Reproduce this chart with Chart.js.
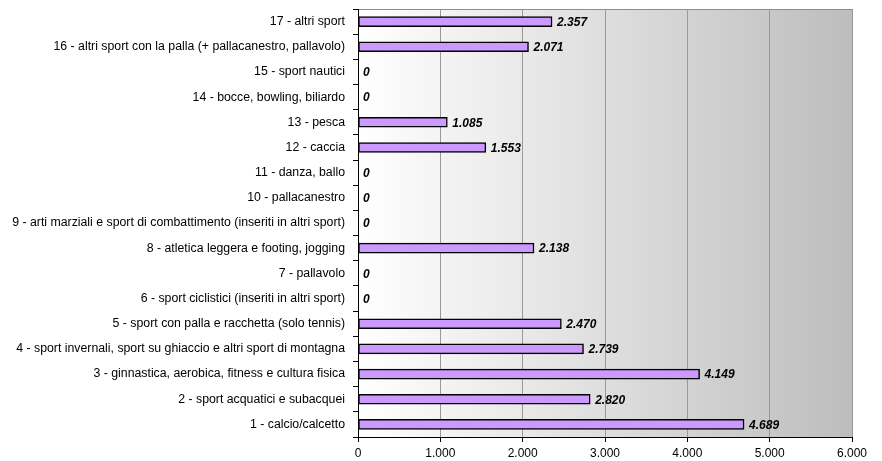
<!DOCTYPE html>
<html>
<head>
<meta charset="utf-8">
<script src="https://cdn.jsdelivr.net/npm/chart.js@4.4.1/dist/chart.umd.min.js"></script>
<style>
    html, body { margin: 0; padding: 0; background: #fff; }
    #wrap { width: 882px; height: 461px; position: relative; }
</style>
</head>
<body>
<div id="wrap"><canvas id="sportChart"></canvas></div>
<script>
// categories, bottom (1) to top (17)
const categories = [
    '1 - calcio/calcetto',
    '2 - sport acquatici e subacquei',
    '3 - ginnastica, aerobica, fitness e cultura fisica',
    '4 - sport invernali, sport su ghiaccio e altri sport di montagna',
    '5 - sport con palla e racchetta (solo tennis)',
    '6 - sport ciclistici (inseriti in altri sport)',
    '7 - pallavolo',
    '8 - atletica leggera e footing, jogging',
    '9 - arti marziali e sport di combattimento (inseriti in altri sport)',
    '10 - pallacanestro',
    '11 - danza, ballo',
    '12 - caccia',
    '13 - pesca',
    '14 - bocce, bowling, biliardo',
    '15 - sport nautici',
    '16 - altri sport con la palla (+ pallacanestro, pallavolo)',
    '17 - altri sport'
];
const values = [4689, 2820, 4149, 2739, 2470, 0, 0, 2138, 0, 0, 0, 1553, 1085, 0, 0, 2071, 2357];
const xTicks = [0, 1000, 2000, 3000, 4000, 5000, 6000];

const FONT = '"Liberation Sans", Arial, sans-serif';

// 4689 -> "4.689"
function fmt(n) {
    return String(n).replace(/\B(?=(\d{3})+(?!\d))/g, '.');
}

// gradient plot background + grey top/right frame
const plotBg = {
    id: 'plotBg',
    beforeDraw(chart) {
        const { ctx, chartArea: a } = chart;
        const g = ctx.createLinearGradient(a.left, 0, a.right, 0);
        g.addColorStop(0, '#ffffff');
        g.addColorStop(1, '#bdbdbd');
        ctx.save();
        ctx.fillStyle = g;
        ctx.fillRect(a.left, a.top, a.right - a.left, a.bottom - a.top);
        ctx.strokeStyle = '#8c8c8c';
        ctx.lineWidth = 1;
        ctx.beginPath();
        ctx.moveTo(a.left, a.top + 0.5);
        ctx.lineTo(a.right + 0.5, a.top + 0.5);
        ctx.lineTo(a.right + 0.5, a.bottom);
        ctx.stroke();
        ctx.restore();
    }
};

// value labels at the end of each bar
const valueLabels = {
    id: 'valueLabels',
    afterDatasetsDraw(chart) {
        const { ctx } = chart;
        const meta = chart.getDatasetMeta(0);
        ctx.save();
        ctx.font = 'italic bold 12px ' + FONT;
        ctx.fillStyle = '#000';
        ctx.textAlign = 'left';
        ctx.textBaseline = 'middle';
        meta.data.forEach((bar, i) => {
            ctx.fillText(fmt(values[i]), bar.x + 5, bar.y + 1);
        });
        ctx.restore();
    }
};

new Chart(document.getElementById('sportChart'), {
    type: 'bar',
    data: {
        labels: categories,
        datasets: [{
            data: values,
            backgroundColor: '#cc99ff',
            borderColor: '#000000',
            borderWidth: 1.5,
            borderSkipped: false,
            barThickness: 10
        }]
    },
    options: {
        indexAxis: 'y',
        responsive: true,
        maintainAspectRatio: false,
        animation: false,
        layout: { padding: { top: 9, right: 30, bottom: 0, left: 0 } },
        plugins: { legend: { display: false }, tooltip: { enabled: false } },
        scales: {
            x: {
                min: 0, max: 6000,
                afterBuildTicks: s => { s.ticks = xTicks.map(v => ({ value: v })); },
                afterFit: s => { s.height = 24; },
                grid: { color: '#999999', tickColor: '#000000', tickLength: 5, lineWidth: 1 },
                border: { display: true, color: '#000000' },
                ticks: {
                    color: '#000', padding: 4,
                    font: { family: FONT, size: 12 },
                    callback: v => fmt(v)
                }
            },
            y: {
                reverse: true,
                afterFit: s => { s.width = 358; s.paddingTop = 0; s.paddingBottom = 0; },
                grid: { drawOnChartArea: false, drawTicks: true, tickLength: 5, tickColor: '#000', offset: true },
                border: { display: true, color: '#000000' },
                ticks: {
                    color: '#000', padding: 8, autoSkip: false,
                    font: { family: FONT, size: 12.3 }
                }
            }
        }
    },
    plugins: [plotBg, valueLabels]
});
</script>
</body>
</html>
